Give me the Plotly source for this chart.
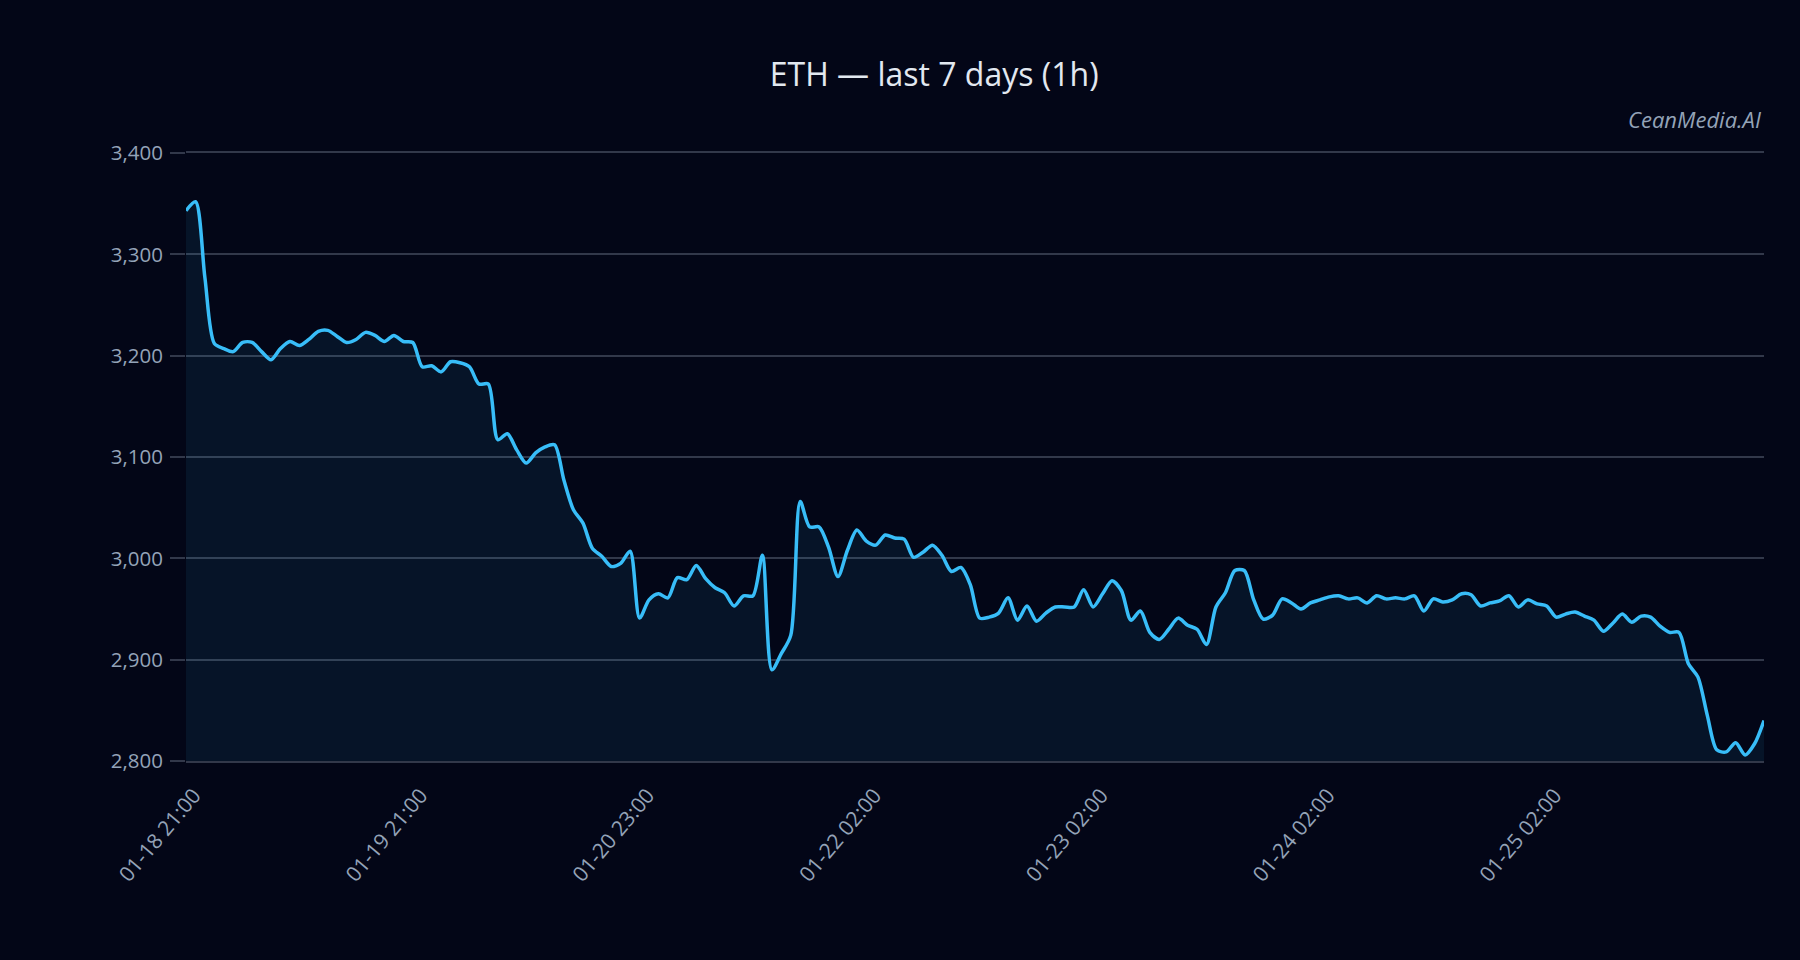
import plotly.graph_objects as go

title_text = "ETH — last 7 days (1h)"
watermark = "CeanMedia.AI"

prices = [
    3343, 3352, 3277, 3212, 3207, 3204, 3213, 3213, 3204, 3196,
    3207, 3214, 3210, 3216, 3224, 3225, 3219, 3213, 3216, 3223,
    3220, 3214, 3220, 3214, 3213, 3189, 3190, 3184, 3194, 3193,
    3189, 3172, 3172, 3117, 3123, 3107, 3094, 3104, 3110, 3112,
    3077, 3048, 3035, 3010, 3002, 2992, 2995, 3007, 2941, 2959,
    2965, 2961, 2981, 2979, 2993, 2980, 2971, 2966, 2953, 2963,
    2963, 3003, 2890, 2906, 2924, 3056, 3031, 3031, 3011, 2982,
    3008, 3028, 3017, 3013, 3023, 3020, 3019, 3001, 3006, 3013,
    3003, 2987, 2991, 2974, 2941, 2942, 2946, 2961, 2939, 2953,
    2938, 2946, 2952, 2952, 2952, 2969, 2952, 2965, 2978, 2968,
    2939, 2948, 2927, 2920, 2930, 2941, 2934, 2930, 2915, 2952,
    2966, 2988, 2988, 2959, 2940, 2944, 2960, 2956, 2950, 2956,
    2959, 2962, 2963, 2960, 2961, 2956, 2963, 2960, 2961, 2960,
    2963, 2948, 2960, 2957, 2959, 2965, 2964, 2953, 2956, 2958,
    2963, 2952, 2959, 2955, 2953, 2942, 2945, 2947, 2943, 2939,
    2928, 2936, 2945, 2937, 2943, 2942, 2933, 2927, 2927, 2896,
    2883, 2845, 2811, 2809, 2818, 2806, 2817, 2840,
]
hours = list(range(len(prices)))

tick_positions = [0, 24, 48, 72, 96, 120, 144]
tick_labels = ["01-18 21:00", "01-19 21:00", "01-20 23:00", "01-22 02:00",
               "01-23 02:00", "01-24 02:00", "01-25 02:00"]
y_ticks = [2800, 2900, 3000, 3100, 3200, 3300, 3400]

BG = "#030617"
GRID = "rgba(148,163,184,0.32)"
TICK = "#94a3b8"
FONT = "Open Sans"

fig = go.Figure()
fig.add_trace(go.Scatter(
    x=hours, y=prices, mode="lines",
    line=dict(color="#38bdf8", width=3.5, shape="spline", smoothing=0.8),
    fill="tozeroy", fillcolor="rgba(56,189,248,0.08)",
    hoverinfo="skip", showlegend=False,
))

fig.update_layout(
    width=1800, height=960,
    paper_bgcolor=BG, plot_bgcolor=BG,
    margin=dict(l=186, r=36, t=153, b=199),
    font=dict(family=FONT, color=TICK, size=20),
    title=dict(text=title_text, x=0.519, xanchor="center", xref="container",
               y=1 - 75 / 960, yanchor="middle", yref="container",
               font=dict(family=FONT, size=32, color="#e2e8f0")),
    xaxis=dict(range=[0, len(prices) - 1], tickmode="array",
               tickvals=tick_positions, ticktext=tick_labels, tickangle=-50,
               showgrid=False, zeroline=False,
               showline=True, mirror=True, linecolor=GRID, linewidth=1.5,
               ticks="", ticklabelstandoff=12, ticklabelshift=8,
               tickfont=dict(size=21, color=TICK)),
    yaxis=dict(range=[2800, 3400], tickmode="array", tickvals=y_ticks,
               tickformat=",", showgrid=True, gridcolor=GRID, gridwidth=1.5,
               zeroline=False, showline=False, ticks="outside", ticklen=15,
               tickcolor=GRID, tickwidth=1.5, ticklabelstandoff=3,
               tickfont=dict(size=20.5, color=TICK)),
    annotations=[dict(text=watermark, xref="paper", yref="paper", x=1, y=1.056,
                      xanchor="right", yanchor="middle", showarrow=False,
                      font=dict(family=FONT, size=22, color=TICK,
                                style="italic"))],
)

fig.write_html("out.html")
